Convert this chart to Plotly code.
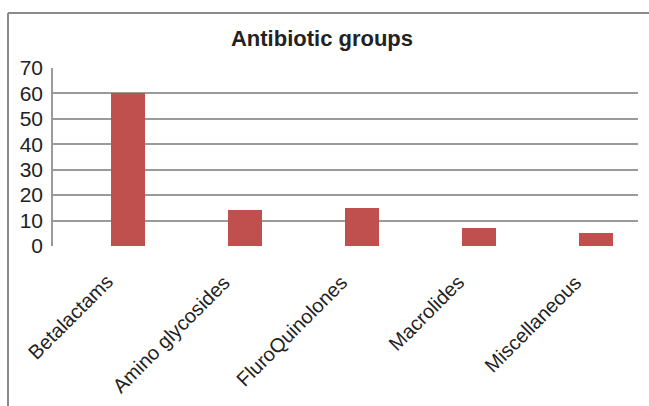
import plotly.graph_objects as go

# Antibiotic usage by group
categories = ["Betalactams", "Amino glycosides", "FluroQuinolones", "Macrolides", "Miscellaneous"]
values = [60, 14, 15, 7, 5]
y_ticks = [0, 10, 20, 30, 40, 50, 60, 70]

BAR_COLOR = "#C0504D"
GRID_COLOR = "#9a9a9a"
TEXT_COLOR = "#222222"
FONT = "Liberation Sans, Arial, sans-serif"

W, H = 649, 406
L, R, T, B = 53, 11, 68, 160
plot_w = W - L - R
plot_h = H - T - B

fig = go.Figure(
    go.Bar(
        x=list(range(len(categories))),
        y=values,
        width=0.29,
        marker=dict(color=BAR_COLOR, line=dict(width=0)),
    )
)

# Category labels, slanted upward beneath each bar
for i, name in enumerate(categories):
    fig.add_annotation(
        x=i, y=0, xref="x", yref="y",
        text=name, showarrow=False,
        textangle=-45,
        xanchor="right", yanchor="top",
        xshift=-8, yshift=-22,
        font=dict(family=FONT, size=20, color=TEXT_COLOR),
    )

# Outer frame (top and left edges of the chart box)
fx = (8 - L) / plot_w
fy = 1 + (T - 13) / plot_h
fig.add_shape(type="line", xref="paper", yref="paper",
              x0=fx, x1=2.0, y0=fy, y1=fy,
              line=dict(color="#8a8a8a", width=2))
fig.add_shape(type="line", xref="paper", yref="paper",
              x0=fx, x1=fx, y0=fy, y1=-2.0,
              line=dict(color="#8a8a8a", width=2))

fig.update_layout(
    width=W,
    height=H,
    margin=dict(l=L, r=R, t=T, b=B, pad=0),
    paper_bgcolor="white",
    plot_bgcolor="white",
    showlegend=False,
    bargap=0,
    font=dict(family=FONT, color=TEXT_COLOR, size=20),
    title=dict(
        text="<b>Antibiotic groups</b>",
        x=322 / W,
        xref="container",
        xanchor="center",
        y=1 - 38 / H,
        yref="container",
        yanchor="middle",
        font=dict(family=FONT, size=22, color=TEXT_COLOR),
    ),
    xaxis=dict(
        range=[-0.641, 4.359],
        showticklabels=False,
        showgrid=False,
        zeroline=False,
        showline=False,
        ticks="",
    ),
    yaxis=dict(
        range=[0, 70],
        tickmode="array",
        tickvals=y_ticks,
        ticktext=[str(v) for v in y_ticks],
        showgrid=True,
        gridcolor=GRID_COLOR,
        gridwidth=1.5,
        zeroline=False,
        showline=True,
        linecolor=GRID_COLOR,
        linewidth=1.5,
        ticks="outside",
        ticklen=4,
        tickcolor="rgba(0,0,0,0)",
        tickfont=dict(family=FONT, size=21, color=TEXT_COLOR),
    ),
)

fig.write_html("out.html")
